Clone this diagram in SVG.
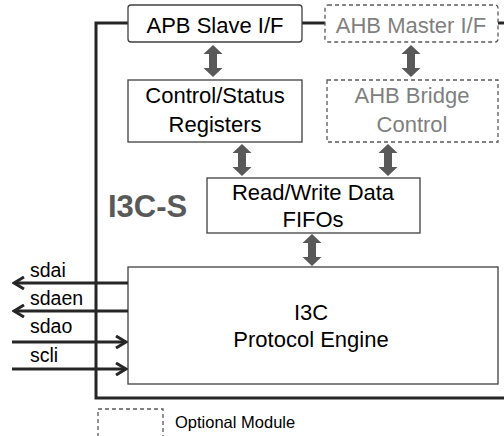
<svg xmlns="http://www.w3.org/2000/svg" width="504" height="436" viewBox="0 0 504 436">
<defs>
<style>
.box{fill:#fff;stroke:#404040;stroke-width:1.3}
.opt{fill:#fff;stroke:#595959;stroke-width:1.3;stroke-dasharray:4,3}
.t{font-family:"Liberation Sans",Arial,sans-serif;font-size:22px;fill:#000;text-anchor:middle}
.tg{font-family:"Liberation Sans",Arial,sans-serif;font-size:22px;fill:#7f7f7f;text-anchor:middle}
.sig{font-family:"Liberation Sans",Arial,sans-serif;font-size:19.5px;fill:#000}
.frame{fill:none;stroke:#262626;stroke-width:3}
.wire{fill:none;stroke:#262626;stroke-width:3}
.dbl{fill:#595959}
</style>
<marker id="oa" viewBox="0 0 14 14" refX="12" refY="7" markerWidth="14" markerHeight="14" markerUnits="userSpaceOnUse" orient="auto">
<path d="M2,1 L12,7 L2,13" fill="none" stroke="#262626" stroke-width="3"/>
</marker>
<path id="darrow" d="M0,-16 L9.5,-7 L4,-7 L4,7 L9.5,7 L0,16 L-9.5,7 L-4,7 L-4,-7 L-9.5,-7 Z"/>
</defs>
<g id="frame">
<path class="frame" d="M128,23 H96 V398 H504"/>
<path class="frame" d="M302,23 H325"/>
<path class="frame" d="M498,23 H504"/>
</g>
<g id="label-i3cs">
<text x="108" y="217" font-family="Liberation Sans,Arial,sans-serif" font-size="31" font-weight="bold" fill="#595959">I3C-S</text>
</g>
<g id="apb">
<rect class="box" x="128" y="5" width="174" height="37" rx="3"/>
<text class="t" x="215" y="33">APB Slave I/F</text>
</g>
<g id="ahbm">
<rect class="opt" x="325" y="5" width="173" height="37" rx="3"/>
<text class="tg" x="411" y="33">AHB Master I/F</text>
</g>
<g id="csr">
<rect class="box" x="128" y="80" width="174" height="62"/>
<text class="t" x="215" y="103">Control/Status</text>
<text class="t" x="215" y="132">Registers</text>
</g>
<g id="ahbb">
<rect class="opt" x="327" y="80" width="171" height="62"/>
<text class="tg" x="412" y="103">AHB Bridge</text>
<text class="tg" x="412" y="132">Control</text>
</g>
<g id="fifo">
<rect class="box" x="207" y="178" width="213" height="55"/>
<text class="t" x="313" y="200">Read/Write Data</text>
<text class="t" x="313" y="227">FIFOs</text>
</g>
<g id="engine">
<rect class="box" x="128" y="267" width="370" height="117"/>
<text class="t" x="311" y="320">I3C</text>
<text class="t" x="311" y="347">Protocol Engine</text>
</g>
<g id="connectors">
<use href="#darrow" class="dbl" transform="translate(213,61)"/>
<use href="#darrow" class="dbl" transform="translate(411,61)"/>
<use href="#darrow" class="dbl" transform="translate(242,160)"/>
<use href="#darrow" class="dbl" transform="translate(388,160)"/>
<use href="#darrow" class="dbl" transform="translate(312,250)"/>
<path class="wire" d="M128,283 H14" marker-end="url(#oa)"/>
<path class="wire" d="M128,311 H14" marker-end="url(#oa)"/>
<path class="wire" d="M12,342 H126" marker-end="url(#oa)"/>
<path class="wire" d="M12,369 H126" marker-end="url(#oa)"/>
</g>
<g id="signal-labels">
<text class="sig" x="30" y="277">sdai</text>
<text class="sig" x="30" y="305">sdaen</text>
<text class="sig" x="30" y="333">sdao</text>
<text class="sig" x="30" y="362">scli</text>
</g>
<g id="legend">
<rect class="opt" x="98" y="409" width="65" height="40"/>
<text x="175" y="428" font-family="Liberation Sans,Arial,sans-serif" font-size="16.5" fill="#000">Optional Module</text>
</g>
</svg>
